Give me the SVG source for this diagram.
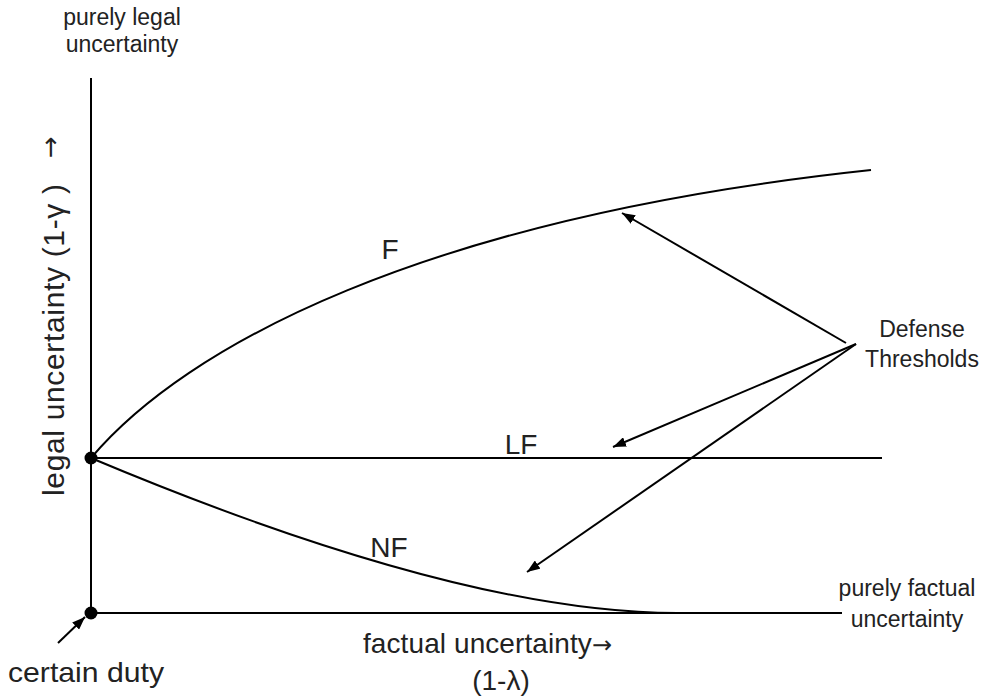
<svg xmlns="http://www.w3.org/2000/svg" width="982" height="700" viewBox="0 0 982 700">
<defs>
<marker id="ah" viewBox="0 0 13 10" refX="13" refY="5" markerWidth="13" markerHeight="10" markerUnits="userSpaceOnUse" orient="auto">
<path d="M0,0 L13,5 L0,10 z" fill="#000"/>
</marker>
<style>
.ln{fill:none;stroke:#000;stroke-width:2}
.ar{fill:none;stroke:#000;stroke-width:2;marker-end:url(#ah)}
.big{font-family:"Liberation Sans",Arial,sans-serif;font-size:28px;fill:#222}
.sm{font-family:"Liberation Sans",Arial,sans-serif;font-size:23px;fill:#222}
.arw{font-family:"DejaVu Sans",sans-serif}
</style>
</defs>
<rect width="982" height="700" fill="#fff"/>
<g id="axes">
<line class="ln" x1="91" y1="78" x2="91" y2="613"/>
<line class="ln" x1="91" y1="613" x2="842" y2="613"/>
</g>
<g id="curve-F">
<path class="ln" d="M91,458 C185,347 420,218 871,170"/>
<text class="big" x="390" y="259" text-anchor="middle">F</text>
</g>
<g id="curve-LF">
<line class="ln" x1="91" y1="458" x2="882" y2="458"/>
<text class="big" x="521" y="454" text-anchor="middle">LF</text>
</g>
<g id="curve-NF">
<path class="ln" d="M91,458 Q460,613 677,613"/>
<text class="big" x="389" y="557" text-anchor="middle">NF</text>
</g>
<g id="point-legal">
<circle cx="91" cy="458" r="6.5" fill="#000"/>
</g>
<g id="point-certain">
<circle cx="91" cy="613" r="6.5" fill="#000"/>
</g>
<g id="label-legal-axis">
<text class="big" style="font-size:30px" transform="translate(64,340) rotate(-90)" text-anchor="middle" textLength="312" lengthAdjust="spacing">legal uncertainty (1-γ )</text>
<text class="big arw" style="font-size:26px" transform="translate(59,147) rotate(-90)" text-anchor="middle">→</text>
</g>
<g id="label-factual-axis">
<text class="big" x="363" y="653" textLength="249" lengthAdjust="spacing">factual uncertainty<tspan class="arw" style="font-size:24px">→</tspan></text>
<text class="big" x="501" y="690" text-anchor="middle">(1-λ)</text>
</g>
<g id="label-purely-legal">
<text class="sm" x="122" y="25" text-anchor="middle">purely legal</text>
<text class="sm" x="122" y="52" text-anchor="middle">uncertainty</text>
</g>
<g id="label-purely-factual">
<text class="sm" x="907" y="596" text-anchor="middle">purely factual</text>
<text class="sm" x="907" y="627" text-anchor="middle">uncertainty</text>
</g>
<g id="label-defense">
<text class="sm" x="922" y="337" text-anchor="middle">Defense</text>
<text class="sm" x="922" y="367" text-anchor="middle">Thresholds</text>
</g>
<g id="label-certain-duty">
<text class="big" x="8" y="682" textLength="156" lengthAdjust="spacingAndGlyphs">certain duty</text>
</g>
<g id="connectors">
<line class="ar" x1="846" y1="343" x2="622" y2="213"/>
<line class="ar" x1="856" y1="344" x2="613" y2="447"/>
<line class="ar" x1="856" y1="344" x2="527" y2="572"/>
<line class="ar" x1="58" y1="643" x2="85" y2="617"/>
</g>
</svg>
